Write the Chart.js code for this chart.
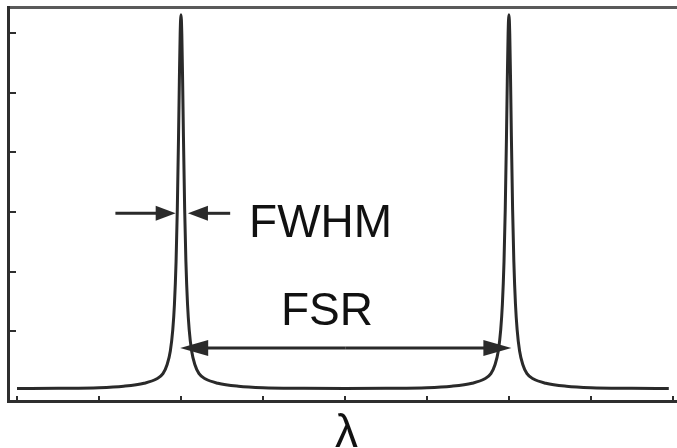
<!DOCTYPE html>
<html>
<head>
<meta charset="utf-8">
<script src="https://cdn.jsdelivr.net/npm/chart.js@4"></script>
<style>
  body { margin: 0; background: #fff; }
  canvas { display: block; }
</style>
</head>
<body>
<canvas id="myChart" width="677" height="448"></canvas>
<script>
// wavelength (x) and transmission (y)
const wavelength = [0, 0.5, 1.0, 1.3, 1.55, 1.7, 1.78, 1.83, 1.87, 1.9, 1.92, 1.94, 1.955, 1.97, 1.98, 1.99,
    2.0,
    2.01, 2.02, 2.03, 2.045, 2.06, 2.08, 2.1, 2.13, 2.17, 2.22, 2.3, 2.45, 2.7, 3.0, 3.5,
    4.0,
    4.5, 5.0, 5.3, 5.55, 5.7, 5.78, 5.83, 5.87, 5.9, 5.92, 5.94, 5.955, 5.97, 5.98, 5.99,
    6.0,
    6.01, 6.02, 6.03, 6.045, 6.06, 6.08, 6.1, 6.13, 6.17, 6.22, 6.3, 6.45, 6.7, 7.0, 7.5,
    7.95]
const transmission = [0.04, 0.045, 0.055, 0.08, 0.13, 0.2, 0.29, 0.44, 0.67, 1.03, 1.45, 2.17, 3.04, 4.26, 5.2, 5.99,
    6.31,
    5.99, 5.2, 4.26, 3.04, 2.17, 1.45, 1.03, 0.67, 0.44, 0.29, 0.2, 0.13, 0.08, 0.055, 0.045,
    0.04,
    0.045, 0.055, 0.08, 0.13, 0.2, 0.29, 0.44, 0.67, 1.03, 1.45, 2.17, 3.04, 4.26, 5.2, 5.99,
    6.31,
    5.99, 5.2, 4.26, 3.04, 2.17, 1.45, 1.03, 0.67, 0.44, 0.29, 0.2, 0.13, 0.08, 0.055, 0.045,
    0.04]
const xTicks = [0, 1, 2, 3, 4, 5, 6, 7, 8]
const yTicks = [1, 2, 3, 4, 5, 6]
const xLabel = 'λ'

// annotation positions (data units)
const fwhmY = 2.98
const fsrY = 0.72

function arrow(ctx, x1, y, x2, len, half){
    var dir = x2 > x1 ? 1 : -1
    ctx.beginPath()
    ctx.moveTo(x1, y)
    ctx.lineTo(x2 - dir * len * 0.8, y)
    ctx.stroke()
    ctx.beginPath()
    ctx.moveTo(x2, y)
    ctx.lineTo(x2 - dir * len, y - half)
    ctx.lineTo(x2 - dir * len, y + half)
    ctx.closePath()
    ctx.fill()
}

const notes = {
    id: 'notes',
    afterDatasetsDraw(chart){
        const ctx = chart.ctx
        const xs = chart.scales.x
        const ys = chart.scales.y
        ctx.save()
        ctx.strokeStyle = '#2a2a2a'
        ctx.fillStyle = '#2a2a2a'
        ctx.lineWidth = 3
        // FWHM arrows
        var yf = ys.getPixelForValue(fwhmY)
        arrow(ctx, xs.getPixelForValue(1.2), yf, xs.getPixelForValue(1.935), 20, 7.5)
        arrow(ctx, xs.getPixelForValue(2.6), yf, xs.getPixelForValue(2.085), 20, 7.5)
        // FSR double arrow
        var ya = ys.getPixelForValue(fsrY)
        var a = xs.getPixelForValue(1.99)
        var b = xs.getPixelForValue(6.03)
        arrow(ctx, (a + b) / 2, ya, a, 28, 8)
        arrow(ctx, (a + b) / 2, ya, b, 28, 8)
        // labels
        ctx.fillStyle = '#111'
        ctx.font = '46px "Liberation Sans", Arial, sans-serif'
        ctx.textBaseline = 'alphabetic'
        ctx.textAlign = 'left'
        ctx.fillText('FWHM', xs.getPixelForValue(2.83), ys.getPixelForValue(2.58))
        ctx.fillText('FSR', xs.getPixelForValue(3.22), ys.getPixelForValue(1.1))
        ctx.textAlign = 'center'
        ctx.fillText(xLabel, xs.getPixelForValue(4.02), chart.chartArea.bottom + 46)
        ctx.restore()
    }
}

const ctx = document.getElementById('myChart')
const myChart = new Chart(ctx, {
    type: 'line',
    data: {
        datasets: [{
            data: wavelength.map((v, i) => ({x: v, y: transmission[i]})),
            borderColor: '#2a2a2a',
            borderWidth: 3,
            pointRadius: 0,
            fill: false,
            cubicInterpolationMode: 'monotone'
        }]
    },
    options: {
        responsive: false,
        animation: false,
        layout: { padding: 0 },
        plugins: { legend: { display: false }, tooltip: { enabled: false } },
        scales: {
            x: {
                type: 'linear',
                position: 'bottom',
                min: -0.11,
                max: 8.05,
                border: { display: true, color: '#2e2e2e', width: 3 },
                grid: { drawOnChartArea: false, drawTicks: true, tickLength: -5, color: '#2e2e2e', lineWidth: 2 },
                ticks: { display: false },
                afterBuildTicks(scale){ scale.ticks = xTicks.map(v => ({value: v})) },
                afterFit(scale){ scale.height = 47 }
            },
            xTop: {
                type: 'linear',
                axis: 'x',
                position: 'top',
                border: { display: true, color: '#5a5a5a', width: 3 },
                grid: { display: false },
                ticks: { display: false },
                afterFit(scale){ scale.height = 7 }
            },
            y: {
                type: 'linear',
                min: -0.168,
                max: 6.44,
                border: { display: true, color: '#2e2e2e', width: 3 },
                grid: { drawOnChartArea: false, drawTicks: true, tickLength: -8, color: '#2e2e2e', lineWidth: 2 },
                ticks: { display: false },
                afterBuildTicks(scale){ scale.ticks = yTicks.map(v => ({value: v})) },
                afterFit(scale){ scale.height; scale.width = 8 }
            }
        }
    },
    plugins: [notes]
})
</script>
</body>
</html>
